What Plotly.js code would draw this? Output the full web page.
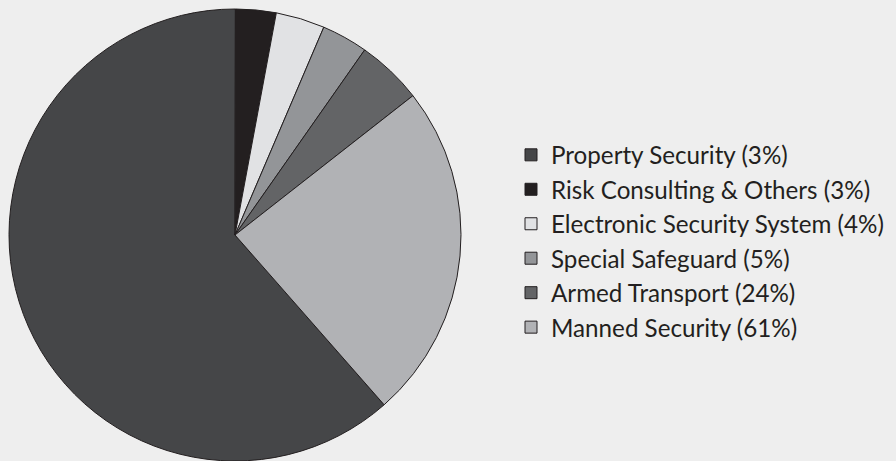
<!DOCTYPE html>
<html>
<head>
<meta charset="utf-8">
<script src="https://cdn.plot.ly/plotly-3.0.1.min.js"></script>
<style>html,body{margin:0;padding:0;background:#eeeeee;}#chart{width:896px;height:461px;}</style>
</head>
<body>
<div id="chart"></div>
<script>
// Legend labels (as printed in the reference) in slice order
const labels = [
  'Property Security (3%)',
  'Risk Consulting & Others (3%)',
  'Electronic Security System (4%)',
  'Special Safeguard (5%)',
  'Armed Transport (24%)',
  'Manned Security (61%)'
];
const values = [61.5, 2.9, 3.5, 3.3, 4.7, 24.1];
const colors = ['#454648', '#231f20', '#e1e2e4', '#939598', '#636466', '#b1b2b5'];

const trace = {
  type: 'pie',
  labels: labels,
  values: values,
  sort: false,
  direction: 'clockwise',
  rotation: 138.7,
  textinfo: 'none',
  hoverinfo: 'label',
  marker: { colors: colors, line: { color: '#231f20', width: 1 } },
  domain: { x: [9 / 896, 461 / 896], y: [0, 452 / 461] }
};

const layout = {
  width: 896,
  height: 461,
  margin: { l: 0, r: 0, t: 0, b: 0 },
  paper_bgcolor: '#eeeeee',
  plot_bgcolor: '#eeeeee',
  showlegend: true,
  legend: {
    x: 511 / 896,
    xanchor: 'left',
    y: 0.477,
    yanchor: 'middle',
    bgcolor: 'rgba(0,0,0,0)',
    borderwidth: 0,
    font: { family: 'Lato, sans-serif', size: 24.2, color: '#231f20' }
  }
};

Plotly.newPlot('chart', [trace], layout, { displayModeBar: false, staticPlot: true });
</script>
</body>
</html>
